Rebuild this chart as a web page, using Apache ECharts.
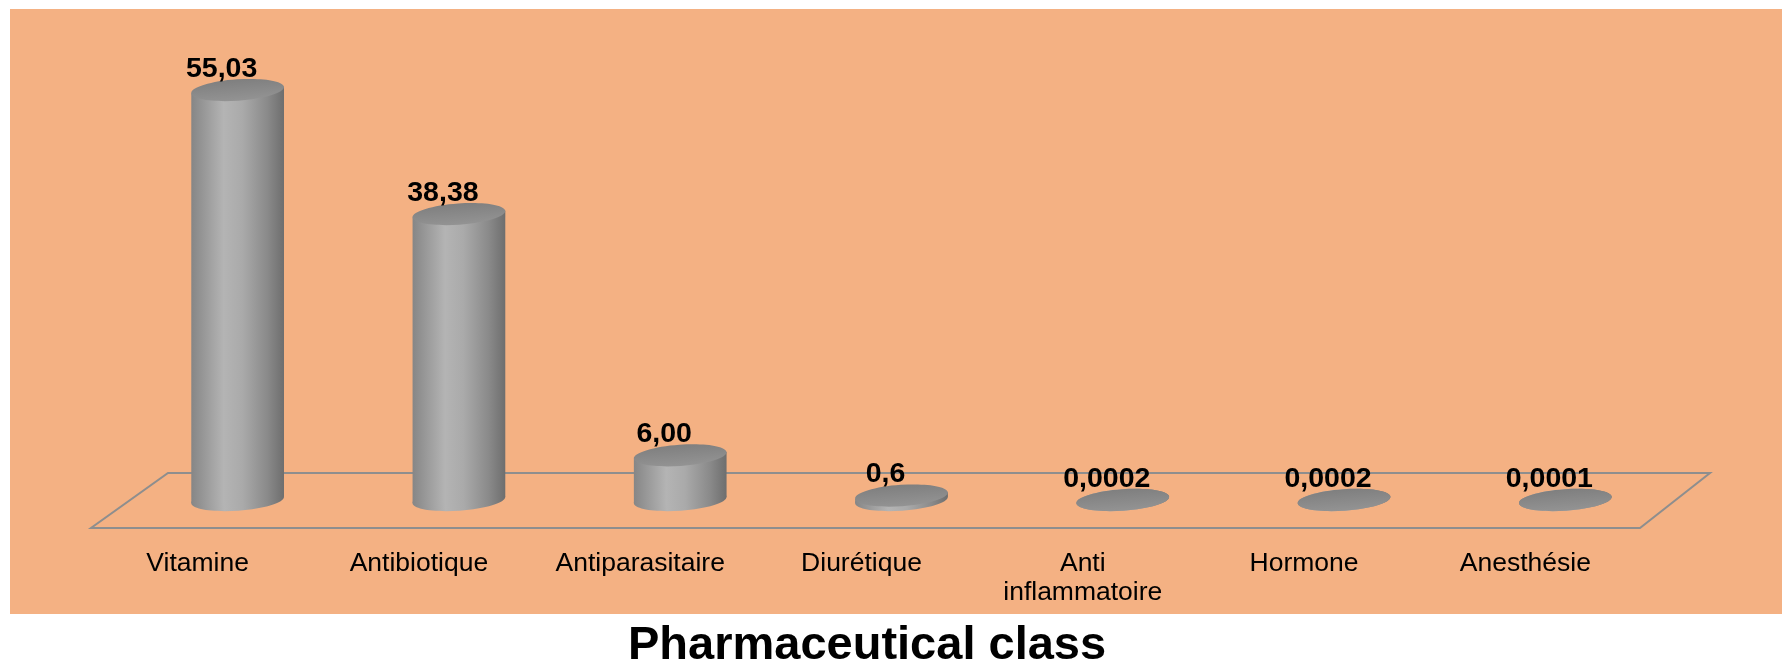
<!DOCTYPE html>
<html><head><meta charset="utf-8">
<script src="https://cdn.jsdelivr.net/npm/echarts@6/dist/echarts.min.js"></script>
<style>html,body{margin:0;padding:0;background:#fff}#c{width:1782px;height:662px}</style>
</head><body><div id="c"></div>
<script>
const categories = ['Vitamine', 'Antibiotique', 'Antiparasitaire', 'Diurétique', 'Anti\ninflammatoire', 'Hormone', 'Anesthésie'];
const values = [55.03, 38.38, 6.00, 0.6, 0.0002, 0.0002, 0.0001];
const valueLabels = ['55,03', '38,38', '6,00', '0,6', '0,0002', '0,0002', '0,0001'];

const FONT = '"Liberation Sans", Arial, Helvetica, sans-serif';
const chart = echarts.init(document.getElementById('c'), null, { renderer: 'canvas' });

function bodyGrad() {
  return new echarts.graphic.LinearGradient(0, 0, 1, 0, [
    { offset: 0, color: '#868686' },
    { offset: 0.35, color: '#b4b4b4' },
    { offset: 0.55, color: '#aaaaaa' },
    { offset: 0.82, color: '#8a8a8a' },
    { offset: 1, color: '#6e6e6e' }
  ]);
}
function topGrad() {
  return new echarts.graphic.LinearGradient(0, 0, 0, 1, [
    { offset: 0, color: '#7f7f7f' },
    { offset: 1, color: '#939393' }
  ]);
}

function cylinder(params, api) {
  const i = api.value(0);
  const base = api.coord([i, 0]);
  const top = api.coord([i, api.value(1)]);
  const bw = api.size([1, 0])[0];
  const rx = bw * 0.21, ry = rx * 0.23;
  const th = 0.07;
  const dx = rx * Math.cos(th), dy = rx * Math.sin(th);
  const cx = base[0];
  return {
    type: 'group',
    children: [
      { type: 'ellipse', shape: { cx: cx, cy: base[1], rx: rx, ry: ry }, rotation: th, originX: cx, originY: base[1], style: { fill: bodyGrad() } },
      { type: 'polygon', shape: { points: [[cx - dx, top[1] + dy], [cx + dx, top[1] - dy], [cx + dx, base[1] - dy], [cx - dx, base[1] + dy]] }, style: { fill: bodyGrad() } },
      { type: 'ellipse', shape: { cx: cx, cy: top[1], rx: rx, ry: ry }, rotation: th, originX: cx, originY: top[1], style: { fill: topGrad() } },
      { type: 'text', z2: 10, style: { text: valueLabels[i], x: cx - 16, y: top[1] - 21, align: 'center', verticalAlign: 'middle', font: 'bold 28.5px ' + FONT, fill: '#000' } }
    ]
  };
}

function floor(params, api) {
  const cs = params.coordSys;
  const by = cs.y + cs.height;
  const L = cs.x, R = cs.x + cs.width;
  return {
    type: 'polygon',
    shape: { points: [[L + 41, by - 27], [R + 34, by - 27], [R - 36, by + 28], [L - 36, by + 28]] },
    style: { fill: 'none', stroke: '#8e8e8e', lineWidth: 2 }
  };
}

chart.setOption({
  backgroundColor: '#ffffff',
  animation: false,
  title: {
    text: 'Pharmaceutical class',
    left: 623, top: 618,
    textStyle: { fontSize: 47, fontWeight: 'bold', color: '#000', fontFamily: FONT }
  },
  graphic: [
    { type: 'rect', left: 10, top: 9, z: -10, silent: true, shape: { width: 1772, height: 605 }, style: { fill: '#F4B183' } }
  ],
  grid: { left: 127, right: 106, top: 53, bottom: 162, containLabel: false },
  xAxis: {
    type: 'category',
    data: categories,
    axisLine: { show: false },
    axisTick: { show: false },
    axisLabel: { margin: 49, fontSize: 26.5, lineHeight: 29, color: '#000', fontFamily: FONT, interval: 0, padding: [0, 80, 0, 0] }
  },
  yAxis: { type: 'value', min: 0, max: 60, show: false, splitLine: { show: false } },
  series: [
    { type: 'custom', renderItem: floor, data: [[0, 0]], z: 1, silent: true },
    { type: 'custom', renderItem: cylinder, data: values.map((v, i) => [i, v]), z: 2, encode: { x: 0, y: 1 } }
  ]
});
</script></body></html>
